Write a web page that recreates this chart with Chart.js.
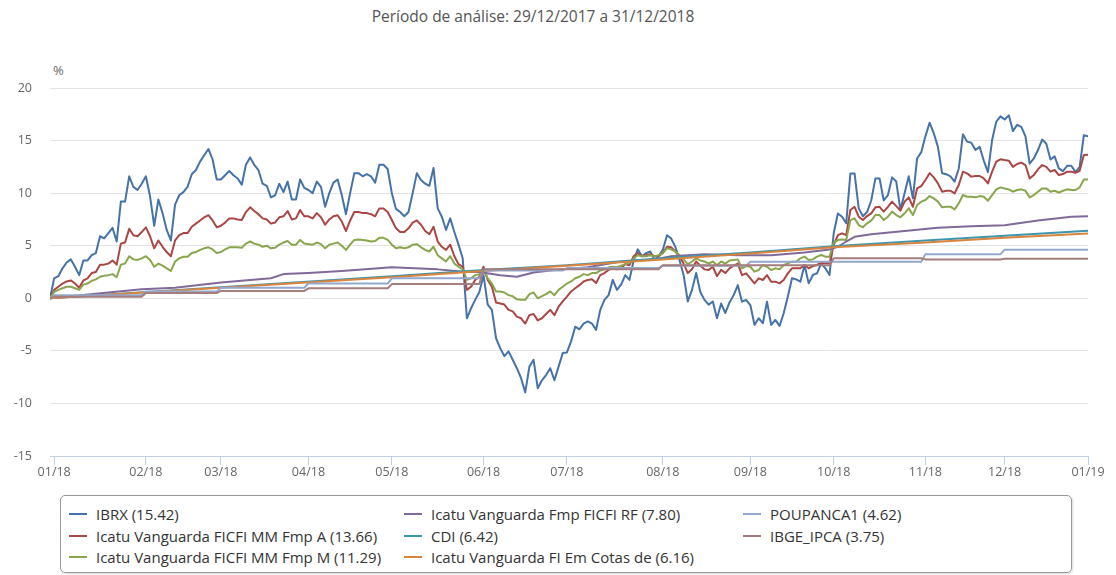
<!DOCTYPE html>
<html>
<head>
<meta charset="utf-8">
<script src="https://cdn.jsdelivr.net/npm/chart.js@4.4.1/dist/chart.umd.min.js"></script>
<style>
  body { margin: 0; width: 1116px; height: 575px; background: #fff; position: relative; overflow: hidden;
         font-family: "Open Sans", sans-serif; }
  #title { position: absolute; top: 5px; left: -25px; width: 1116px; text-align: center; font-size: 15.5px; color: #555; }
  #unit { position: absolute; left: 53px; top: 61px; font-size: 13px; color: #666; }
  #wrap { position: absolute; left: 0; top: 0; width: 1116px; height: 490px; }
  #legend { position: absolute; left: 60px; top: 495px; width: 1012px; height: 78px; box-sizing: border-box;
            border: 1px solid #999; border-radius: 5px; box-shadow: 1px 1px 2px rgba(0,0,0,0.15); }
  .item { position: absolute; font-size: 15px; color: #333; white-space: nowrap; line-height: 20px; }
  .item i { position: absolute; left: 0; top: 9px; width: 18px; height: 2px; }
  .item span { margin-left: 27px; }
</style>
</head>
<body>
<div id="title">Período de análise: 29/12/2017 a 31/12/2018</div>
<div id="unit">%</div>
<div id="wrap"><canvas id="chart"></canvas></div>
<div id="legend"></div>
<script>
// x = trading-day index from 29/12/2017 (0) to 31/12/2018 (249)
const monthLabels = ['01/18', '02/18', '03/18', '04/18', '05/18', '06/18', '07/18', '08/18', '09/18', '10/18', '11/18', '12/18', '01/19'];
const monthTicks = [1, 23, 41, 62, 82, 104, 124, 147, 168, 188, 210, 229, 249];

// daily series (one value per trading day)
const ibrx = [
  0, 1.9, 2.1, 2.85, 3.4, 3.7, 3.0, 2.2, 3.6, 3.6,
  4.1, 4.3, 5.9, 5.7, 6.2, 6.7, 5.4, 9.2, 9.2, 11.6,
  10.6, 10.3, 10.9, 11.6, 9.7, 6.9, 9.4, 8.1, 6.5, 5.5,
  8.9, 9.8, 10.1, 10.6, 11.8, 12.2, 13.0, 13.6, 14.2, 13.2,
  11.3, 11.3, 11.7, 12.1, 11.7, 11.4, 10.8, 12.7, 13.4, 12.7,
  12.2, 10.9, 10.7, 9.6, 9.8, 10.9, 10.1, 11.1, 9.4, 9.4,
  11.3, 10.5, 10.3, 10.0, 11.1, 10.6, 8.7, 10.0, 11.0, 11.3,
  9.8, 8.0, 10.0, 11.9, 11.9, 11.6, 11.8, 11.6, 11.0, 12.7,
  12.7, 12.3, 10.0, 8.5, 8.2, 7.8, 8.2, 10.0, 11.9, 11.25,
  10.9, 10.7, 12.4, 8.55, 7.75, 6.5, 7.6, 6.3, 5.1, 3.8,
  -1.9, -0.95, -0.15, 0.6, 2.2, -0.6, -1.1, -3.8, -4.75, -5.5,
  -5.05, -5.85, -6.65, -7.6, -8.95, -6.5, -5.85, -8.55, -7.8, -7.3,
  -6.65, -7.8, -6.5, -5.2, -5.15, -4.1, -2.7, -2.95, -2.4, -2.2,
  -2.4, -3.0, -1.1, -0.15, 0.3, 1.75, 0.8, 1.3, 2.2, 1.75,
  3.6, 4.65, 4.0, 4.3, 4.45, 3.65, 4.0, 4.6, 6.0, 5.7,
  4.9, 3.65, 2.2, -0.3, 0.8, 2.4, 0.6, -0.15, -0.6, -0.3,
  -1.9, -0.5, -1.4, -0.4, 0.3, 1.25, -0.32, -0.16, -0.64, -2.53,
  -1.9, -2.37, -0.32, -2.53, -2.06, -2.63, -1.42, 0.16, 1.9, 1.8,
  1.58, 3.17, 1.42, 2.22, 2.38, 3.33, 2.85, 2.22, 6.18, 8.07,
  7.76, 7.13, 11.88, 11.88, 8.55, 7.8, 8.2, 9.3, 11.4, 11.4,
  9.3, 9.8, 11.5, 11.1, 8.4, 10.0, 11.6, 9.5, 13.3, 13.9,
  15.4, 16.7, 15.7, 14.4, 11.9, 11.8, 11.6, 11.1, 12.35, 15.6,
  14.9, 14.8, 14.1, 14.4, 13.1, 12.0, 15.05, 16.8, 17.3, 17.0,
  17.4, 15.9, 16.5, 16.3, 15.4, 12.8, 13.3, 14.1, 15.1, 14.7,
  13.2, 13.5, 12.35, 12.1, 12.6, 12.6, 12.0, 12.5, 15.5, 15.42
];
const icatuA = [
  0, 0.8, 1.1, 1.4, 1.6, 1.7, 1.4, 1.0, 1.7, 1.9,
  2.4, 2.5, 3.2, 3.2, 3.3, 3.6, 3.2, 5.2, 5.3, 6.6,
  6.0, 5.9, 6.3, 6.75, 5.9, 4.75, 5.5, 4.9, 4.4, 4.0,
  5.5, 6.0, 6.2, 6.2, 6.8, 7.1, 7.4, 7.7, 7.9, 7.4,
  6.75, 6.9, 7.2, 7.6, 7.6, 7.5, 7.45, 8.2, 8.65, 8.3,
  8.0, 7.6, 7.5, 7.1, 7.2, 7.7, 7.8, 8.3, 7.5, 7.6,
  8.4, 7.8, 7.8, 7.6, 8.1, 7.7, 7.0, 7.5, 7.8, 7.9,
  7.3, 6.4, 7.4, 8.2, 8.2, 8.1, 8.1, 8.0, 7.8, 8.55,
  8.55, 8.2, 7.45, 6.65, 6.3, 6.3, 6.65, 7.2, 7.4, 7.0,
  6.4, 6.1, 6.8, 5.4, 4.9, 4.6, 5.1, 4.0, 3.25, 3.0,
  0.8, 1.1, 1.75, 2.05, 3.0, 1.75, 1.1, -0.4, -0.5, -0.6,
  -1.1, -1.25, -1.75, -1.9, -2.4, -1.6, -1.5, -2.1, -1.9, -1.5,
  -1.1, -1.6, -0.8, -0.3, 0.15, 0.65, 0.95, 1.25, 1.6, 1.75,
  1.8, 1.45, 2.2, 2.4, 2.7, 2.95, 2.75, 2.85, 3.25, 3.15,
  4.0, 4.3, 4.0, 4.1, 4.2, 4.0, 4.0, 4.3, 4.9, 4.85,
  4.45, 4.0, 3.3, 2.4, 2.75, 3.5, 3.1, 2.75, 2.7, 3.0,
  2.1, 2.7, 2.4, 2.85, 3.1, 3.3, 2.2, 2.37, 1.9, 1.42,
  1.9, 1.74, 2.2, 1.58, 1.58, 1.42, 1.74, 2.37, 2.85, 2.85,
  2.85, 3.17, 2.85, 3.07, 3.17, 3.39, 3.33, 3.33, 5.07, 6.0,
  6.18, 6.0, 8.4, 8.7, 7.76, 7.44, 7.82, 8.08, 8.65, 8.7,
  8.24, 8.7, 9.19, 8.77, 8.33, 9.19, 9.6, 8.7, 10.45, 10.67,
  11.25, 11.9, 11.5, 10.93, 10.14, 10.23, 10.23, 9.98, 10.77, 12.04,
  11.88, 11.57, 11.63, 11.63, 11.4, 10.93, 12.04, 12.99, 13.22, 13.15,
  13.09, 12.5, 12.77, 12.9, 12.67, 11.4, 11.72, 12.26, 12.67, 12.5,
  12.04, 12.2, 11.72, 11.82, 12.04, 12.04, 11.94, 12.13, 13.62, 13.66
];
const icatuM = [
  0, 0.6, 0.8, 0.95, 1.1, 1.1, 0.95, 0.8, 1.3, 1.4,
  1.65, 1.8, 2.05, 2.15, 2.2, 2.3, 2.0, 3.2, 3.3, 4.0,
  3.7, 3.65, 3.8, 4.0, 3.65, 3.0, 3.3, 3.1, 2.85, 2.6,
  3.5, 3.8, 3.95, 3.95, 4.3, 4.4, 4.6, 4.75, 4.85, 4.65,
  4.3, 4.4, 4.65, 4.85, 4.85, 4.85, 4.8, 5.2, 5.4, 5.2,
  5.1, 4.9, 5.0, 4.75, 4.8, 5.1, 5.3, 5.45, 5.1, 5.1,
  5.55, 5.2, 5.15, 5.1, 5.3, 5.15, 4.75, 5.1, 5.2, 5.3,
  5.0, 4.6, 5.1, 5.55, 5.6, 5.55, 5.5, 5.4, 5.45, 5.75,
  5.75, 5.55, 5.1, 4.75, 4.85, 4.75, 4.85, 5.1, 5.15, 4.85,
  4.6, 4.45, 4.9, 4.1, 3.8, 3.5, 4.0, 3.3, 3.0, 2.75,
  1.75, 1.9, 2.2, 2.3, 2.75, 1.9, 1.4, 0.65, 0.65, 0.55,
  0.3, 0.2, -0.1, -0.15, -0.15, 0.4, 0.55, 0.0, 0.2, 0.4,
  0.65, 0.3, 0.8, 1.1, 1.4, 1.6, 1.9, 2.05, 2.3, 2.2,
  2.4, 2.4, 2.65, 2.75, 2.95, 3.0, 2.95, 3.1, 3.25, 3.35,
  3.8, 4.1, 4.0, 4.0, 4.1, 4.0, 4.1, 4.3, 4.75, 4.65,
  4.45, 4.1, 3.7, 3.25, 3.5, 3.8, 3.6, 3.5, 3.3, 3.5,
  3.15, 3.5, 3.3, 3.6, 3.65, 3.7, 2.85, 3.07, 3.0, 2.53,
  2.69, 3.17, 3.0, 2.69, 2.85, 2.75, 3.17, 3.32, 3.48, 3.48,
  3.8, 3.96, 3.64, 3.7, 3.96, 4.12, 3.96, 3.96, 5.29, 5.54,
  5.6, 5.54, 7.44, 7.6, 6.97, 6.75, 7.13, 7.38, 7.92, 7.92,
  7.44, 7.76, 8.24, 7.92, 7.7, 8.08, 8.55, 7.92, 8.87, 9.19,
  9.35, 9.72, 9.5, 9.19, 8.65, 8.71, 8.71, 8.46, 9.03, 9.82,
  9.66, 9.66, 9.6, 9.72, 9.66, 9.28, 9.82, 10.36, 10.55, 10.45,
  10.36, 10.14, 10.3, 10.36, 10.23, 9.6, 9.82, 10.14, 10.45, 10.45,
  10.14, 10.23, 10.04, 10.23, 10.36, 10.3, 10.3, 10.55, 11.3, 11.29
];

// slow series, read at break points (day index, value)
const fmpRfDays = [0, 14, 22, 30, 41, 53, 56, 62, 70, 82, 93, 100, 103, 108, 112, 116, 121, 129, 137, 145, 149, 157, 165, 173, 181, 187, 189, 191, 193, 197, 205, 213, 221, 229, 237, 245, 249];
const fmpRf = [0, 0.55, 0.85, 1.0, 1.5, 1.9, 2.3, 2.4, 2.6, 2.95, 2.75, 2.5, 2.5, 2.2, 2.05, 2.45, 2.7, 2.95, 3.5, 3.7, 4.0, 4.2, 4.1, 4.1, 4.35, 4.65, 4.9, 5.4, 5.85, 6.1, 6.4, 6.7, 6.85, 6.95, 7.4, 7.75, 7.8];
const cdiDays = [0, 41, 82, 104, 124, 147, 168, 188, 210, 229, 249];
const cdi = [0, 1.05, 2.1, 2.7, 3.15, 3.8, 4.35, 4.95, 5.5, 5.95, 6.42];
const fiCotasDays = [0, 41, 82, 104, 124, 147, 168, 188, 210, 229, 249];
const fiCotas = [0, 1.0, 2.0, 2.6, 3.1, 3.7, 4.25, 4.85, 5.3, 5.75, 6.16];
const poupDays = [0, 1, 22, 23, 40, 41, 61, 62, 81, 82, 103, 104, 123, 124, 146, 147, 167, 168, 209, 210, 228, 229, 249];
const poup = [0, 0.3, 0.3, 0.65, 0.65, 1.0, 1.0, 1.4, 1.4, 1.9, 1.9, 2.65, 2.65, 2.87, 2.87, 3.1, 3.1, 3.48, 3.48, 4.2, 4.2, 4.62, 4.62];
const ipcaDays = [0, 1, 22, 23, 40, 41, 61, 62, 81, 82, 103, 104, 146, 147, 187, 188, 209, 210, 228, 229, 249];
const ipca = [0, 0.15, 0.15, 0.5, 0.5, 0.7, 0.7, 0.95, 0.95, 1.35, 1.35, 2.75, 2.75, 3.15, 3.15, 3.8, 3.8, 3.7, 3.7, 3.75, 3.75];

const seriesNames = ['IBRX (15.42)', 'Icatu Vanguarda FICFI MM Fmp A (13.66)', 'Icatu Vanguarda FICFI MM Fmp M (11.29)',
  'Icatu Vanguarda Fmp FICFI RF (7.80)', 'CDI (6.42)', 'Icatu Vanguarda FI Em Cotas de (6.16)', 'POUPANCA1 (4.62)', 'IBGE_IPCA (3.75)'];
const seriesColors = ['#4572A7', '#AA4643', '#89A54E', '#80699B', '#3D96AE', '#DB843D', '#92A8CD', '#A47D7C'];

const seriesData = [
  [null, ibrx], [null, icatuA], [null, icatuM], [fmpRfDays, fmpRf],
  [cdiDays, cdi], [fiCotasDays, fiCotas], [poupDays, poup], [ipcaDays, ipca]
];

function toPoints(days, values) {
  return values.map((v, i) => ({ x: days ? days[i] : i, y: v }));
}

const FONT = '"Open Sans", sans-serif';

const datasets = seriesData.map(([days, values], i) => ({
  label: seriesNames[i],
  data: toPoints(days, values),
  borderColor: seriesColors[i],
  backgroundColor: seriesColors[i],
  order: seriesData.length - i   // later series drawn on top
}));

new Chart(document.getElementById('chart').getContext('2d'), {
  type: 'line',
  data: { datasets: datasets },
  options: {
    responsive: true,
    maintainAspectRatio: false,
    animation: false,
    parsing: false,
    layout: { padding: { left: 0, right: 28, top: 88, bottom: 0 } },
    elements: {
      point: { radius: 0 },
      line: { tension: 0, borderWidth: 2, borderJoinStyle: 'round', borderCapStyle: 'round' }
    },
    plugins: {
      legend: { display: false },
      tooltip: { enabled: false }
    },
    scales: {
      x: {
        type: 'linear',
        min: 0,
        max: 249,
        afterBuildTicks: scale => { scale.ticks = monthTicks.map(v => ({ value: v })); },
        afterFit: scale => { scale.height = 34; },
        grid: { drawOnChartArea: false, drawTicks: true, tickLength: 9, color: '#C0D0E0' },
        border: { color: '#C0D0E0' },
        ticks: {
          autoSkip: false,
          maxRotation: 0,
          padding: 0,
          color: '#666',
          font: { family: FONT, size: 12.5 },
          callback: v => monthLabels[monthTicks.indexOf(v)] || ''
        }
      },
      y: {
        min: -15,
        max: 20,
        afterFit: scale => { scale.width = 50; },
        grid: { color: '#E3E3E3', drawTicks: false },
        border: { display: false },
        ticks: { stepSize: 5, padding: 18, color: '#666', font: { family: FONT, size: 12.5 } }
      }
    }
  }
});

// legend: three columns, filled top to bottom
const legend = document.getElementById('legend');
const legendCols = [8, 343, 682];
seriesNames.forEach((name, i) => {
  const col = Math.floor(i / 3), row = i % 3;
  const item = document.createElement('div');
  item.className = 'item';
  item.style.left = legendCols[col] + 'px';
  item.style.top = (8 + row * 21.5) + 'px';
  item.innerHTML = '<i style="background:' + seriesColors[i] + '"></i><span>' + name + '</span>';
  legend.appendChild(item);
});
</script>
</body>
</html>
